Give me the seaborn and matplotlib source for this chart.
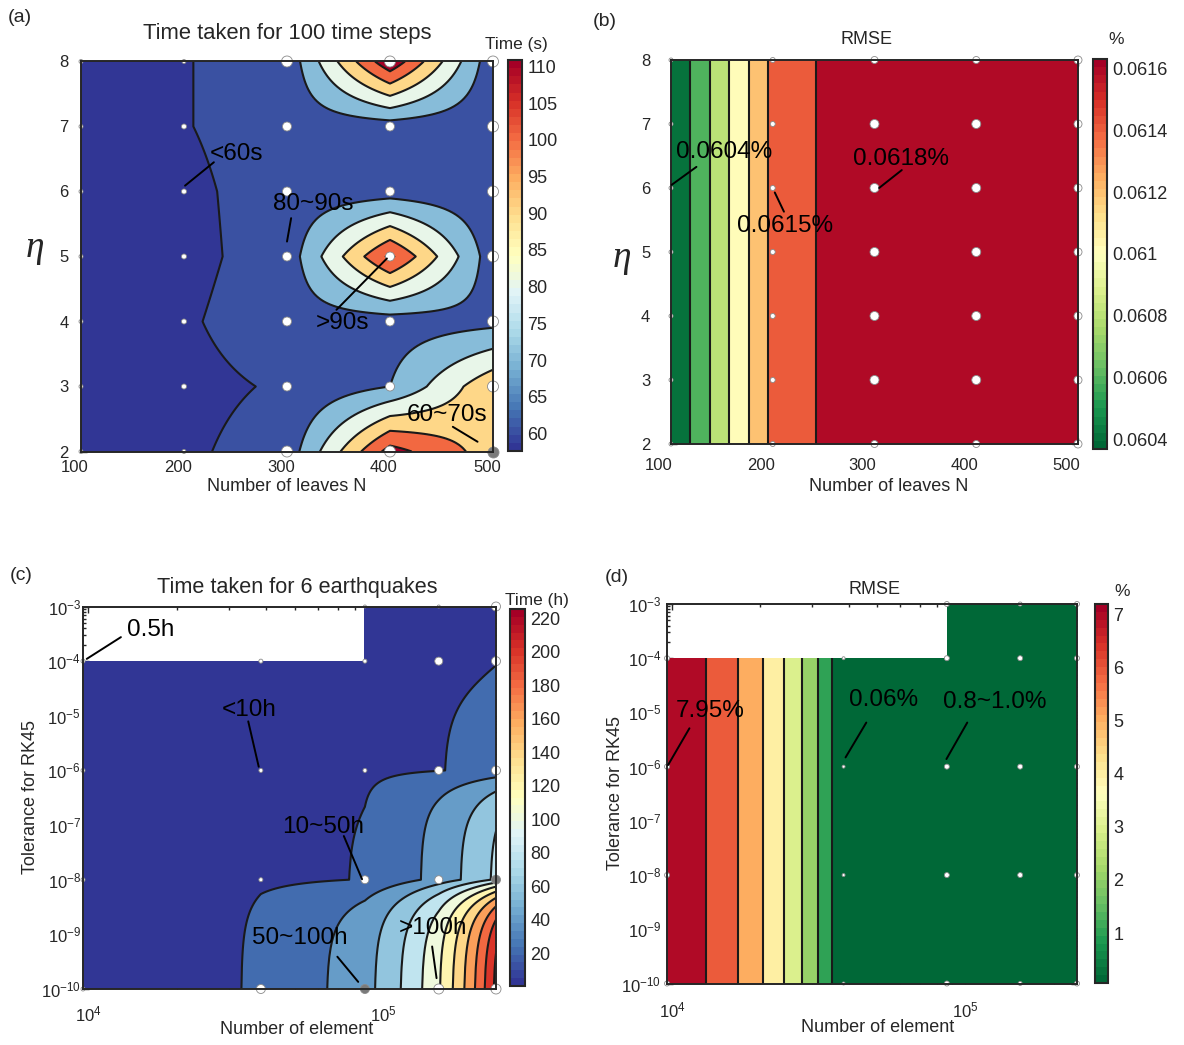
import numpy as np
import pandas as pd
import matplotlib
matplotlib.use("Agg")
import matplotlib.pyplot as plt
import matplotlib.tri as mtri
import matplotlib.ticker as mticker
import matplotlib.transforms as mtrans
from matplotlib.colors import Normalize
from matplotlib.cm import ScalarMappable
import seaborn as sns

# ---------------- data ----------------
leaves_N = [100, 200, 300, 400, 500]
eta_values = [2, 3, 4, 5, 6, 7, 8]
# time (s) for 100 time steps, rows = eta 2..8, cols = N
time_100_steps = [
    [57.6, 58.5, 64.0, 114.0, 95.0],
    [57.6, 57.7, 61.0, 70.0, 98.0],
    [57.6, 58.9, 65.0, 65.0, 67.0],
    [57.6, 57.6, 64.0, 112.0, 64.0],
    [57.6, 58.1, 64.0, 65.0, 63.0],
    [57.6, 59.6, 64.0, 65.0, 63.0],
    [57.6, 59.7, 63.0, 118.0, 63.0],
]
rmse_leaves = [0.06040, 0.06145, 0.06180, 0.06182, 0.06183]

elements = [9600, 38400, 86400, 153600, 240000]
tolerance = [1e-10, 1e-8, 1e-6, 1e-4, 1e-3]
# time (h) for 6 earthquakes, rows = tolerance, cols = elements
time_6_eq = [
    [0.5, 24.5, 53.1, 118.0, 225.0],
    [0.5, 16.2, 21.0, 48.0, 84.0],
    [0.5, 5.0, 16.2, 19.5, 25.0],
    [0.5, 3.0, 5.0, 10.0, 19.0],
    [np.nan, np.nan, 2.0, 3.0, 5.0],
]
rmse_elements = [
    [7.95, 0.06, 0.95, 0.90, 0.85],
    [7.95, 0.06, 0.95, 0.90, 0.85],
    [7.95, 0.06, 0.95, 0.90, 0.85],
    [7.95, 0.06, 0.95, 0.90, 0.85],
    [np.nan, np.nan, 0.95, 0.90, 0.85],
]

time_s_levels = [60, 70, 80, 90, 100, 110]
time_s_ticks = [60, 65, 70, 75, 80, 85, 90, 95, 100, 105, 110]
rmse_leaf_levels = [0.0606, 0.0608, 0.0610, 0.0612, 0.0614, 0.0616]
rmse_leaf_ticks = [0.0604, 0.0606, 0.0608, 0.0610, 0.0612, 0.0614, 0.0616]
time_h_levels = [20, 40, 60, 80, 100, 120, 140, 160, 180, 200, 220]
time_h_ticks = [20, 40, 60, 80, 100, 120, 140, 160, 180, 200, 220]
rmse_el_levels = [1, 2, 3, 4, 5, 6, 7]
rmse_el_ticks = [1, 2, 3, 4, 5, 6, 7]
leaf_ticks = [100, 200, 300, 400, 500]
eta_ticks = [2, 3, 4, 5, 6, 7, 8]
element_ticks = [1e4, 1e5]
tolerance_ticks = [1e-10, 1e-9, 1e-8, 1e-7, 1e-6, 1e-5, 1e-4, 1e-3]

# ---------------- style ----------------
W, H = 1184, 1045
sns.set_theme(style="ticks")
plt.rcParams["font.family"] = ["Liberation Sans", "DejaVu Sans"]
plt.rcParams["mathtext.fontset"] = "custom"
plt.rcParams["mathtext.rm"] = "Liberation Sans"
plt.rcParams["mathtext.it"] = "Liberation Sans:italic"
plt.rcParams["mathtext.default"] = "regular"
EDGE = "#262626"
plt.rcParams["axes.edgecolor"] = EDGE
plt.rcParams["xtick.color"] = EDGE
plt.rcParams["ytick.color"] = EDGE

fig = plt.figure(figsize=(W / 100, H / 100), dpi=100)
fig.patch.set_facecolor("white")


def box(x0, y0, x1, y1):
    return [x0 / W, 1 - y1 / H, (x1 - x0) / W, (y1 - y0) / H]


def grid_tri(xs, ys, Z, sx=1.0, sy=1.0):
    Z = np.asarray(Z, float)
    X, Y = np.meshgrid(np.asarray(xs, float), np.asarray(ys, float))
    valid = ~np.isnan(Z)
    idx = -np.ones(Z.shape, int)
    idx[valid] = np.arange(valid.sum())
    tris = []
    ny, nx = Z.shape
    for j in range(ny - 1):
        for i in range(nx - 1):
            bl, br, tr, tl = idx[j, i], idx[j, i + 1], idx[j + 1, i + 1], idx[j + 1, i]
            if min(bl, br, tr, tl) < 0:
                continue
            tris += [[bl, br, tr], [bl, tr, tl]]
    tri = mtri.Triangulation(X[valid] / sx, Y[valid] / sy, np.array(tris))
    return tri, Z[valid]


def refined_bilinear(xs, ys, Z, sx, sy, subdiv):
    """Refine the grid mesh and evaluate the cell-wise bilinear field on it."""
    tri, _ = grid_tri(xs, ys, Z, sx, sy)
    rtri = mtri.UniformTriRefiner(tri).refine_triangulation(subdiv=subdiv)
    xn = np.asarray(xs, float) / sx
    yn = np.asarray(ys, float) / sy
    Zf = np.nan_to_num(np.asarray(Z, float))
    i = np.clip(np.searchsorted(xn, rtri.x, side="left") - 1, 0, len(xn) - 2)
    j = np.clip(np.searchsorted(yn, rtri.y, side="left") - 1, 0, len(yn) - 2)
    u = (rtri.x - xn[i]) / (xn[i + 1] - xn[i])
    v = (rtri.y - yn[j]) / (yn[j + 1] - yn[j])
    zz = ((1 - u) * (1 - v) * Zf[j, i] + u * (1 - v) * Zf[j, i + 1]
          + u * v * Zf[j + 1, i + 1] + (1 - u) * v * Zf[j + 1, i])
    return mtri.Triangulation(rtri.x * sx, rtri.y * sy, rtri.triangles), zz


def draw_contours(ax, tri, z, levels, cmap, norm, zmin):
    colors = [cmap(norm(zmin))] + [cmap(norm(l)) for l in levels]
    ax.tricontourf(tri, z, levels=levels, colors=colors, extend="both", zorder=1)
    ax.tricontour(tri, z, levels=levels, colors="k", linewidths=1.5, zorder=1.5)


def draw_points(ax, xs, ys, diam, fill):
    rows = []
    for j, y in enumerate(ys):
        for i, x in enumerate(xs):
            d = diam[j][i]
            if d is None:
                continue
            rows.append(dict(x=x, y=y, s=(d * 0.72) ** 2, f=fill[j][i]))
    df = pd.DataFrame(rows)
    for f, fc in [("w", "white"), ("g", "#7a7a7a")]:
        sub = df[df.f == f]
        if len(sub) == 0:
            continue
        sns.scatterplot(data=sub, x="x", y="y", s=sub["s"].values, color=fc,
                        edgecolor="#8a8a8a", linewidth=0.6, ax=ax, legend=False,
                        clip_on=False, zorder=2.2)


def style_axes(ax, xpad, ypad, xshift=0):
    for sp in ax.spines.values():
        sp.set_linewidth(1.4)
        sp.set_color(EDGE)
        sp.set_zorder(3)
    ax.tick_params(which="both", direction="in", top=True, right=True,
                   labelsize=12, width=1.0)
    ax.tick_params(which="major", length=4)
    ax.tick_params(which="minor", length=2.5)
    ax.tick_params(axis="x", which="both", pad=xpad)
    ax.tick_params(axis="y", which="both", pad=ypad)
    ax.set_xlabel("")
    ax.set_ylabel("")
    ax.xaxis.label.set_visible(False)
    ax.yaxis.label.set_visible(False)
    if xshift:
        off = mtrans.ScaledTranslation(xshift / 100.0, 0, fig.dpi_scale_trans)
        for lab in ax.get_xticklabels():
            lab.set_transform(lab.get_transform() + off)


def colorbar(cax, cmap, norm, ticks, fmt=None):
    sm = ScalarMappable(norm=norm, cmap=cmap)
    cb = fig.colorbar(sm, cax=cax, ticks=ticks)
    cb.outline.set_linewidth(1.5)
    cb.outline.set_edgecolor(EDGE)
    cax.tick_params(direction="in", length=4, width=1.0, labelsize=13, color=EDGE, pad=4)
    cax.minorticks_off()
    if fmt is not None:
        cb.formatter = fmt
        cb.update_ticks()
    return cb


ANN_FS = 17.5


def annotate(ax, text, tx, ty, p0, p1, ha="center"):
    ax.text(tx, ty, text, ha=ha, va="center", fontsize=ANN_FS, color="black", zorder=4)
    ax.annotate("", xy=p1, xytext=p0,
                arrowprops=dict(arrowstyle="-", color="black", lw=1.4, shrinkA=0, shrinkB=0),
                zorder=4)


def log_ticks(ax):
    ax.xaxis.set_major_locator(mticker.FixedLocator(element_ticks))
    ax.yaxis.set_major_locator(mticker.FixedLocator(tolerance_ticks))
    ax.xaxis.set_major_formatter(mticker.LogFormatterSciNotation())
    ax.yaxis.set_major_formatter(mticker.LogFormatterSciNotation())
    ax.yaxis.set_minor_locator(mticker.LogLocator(base=10, subs=np.arange(2, 10), numticks=20))
    ax.xaxis.set_minor_locator(mticker.LogLocator(base=10, subs=np.arange(2, 10), numticks=20))
    ax.yaxis.set_minor_formatter(mticker.NullFormatter())
    ax.xaxis.set_minor_formatter(mticker.NullFormatter())


cmap_div = plt.get_cmap("RdYlBu_r").resampled(48)
cmap_grn = plt.get_cmap("RdYlGn_r").resampled(48)

# ---------------- (a) ----------------
axA = fig.add_axes(box(81, 61.5, 493, 451.5))
normA = Normalize(57.6, 110.9)
triA, zA = refined_bilinear(leaves_N, eta_values, time_100_steps, 100.0, 1.0, 5)
draw_contours(axA, triA, zA, time_s_levels, cmap_div, normA, np.min(time_100_steps))
a_diam = [
    [4, 4, 11, 11, 11],
    [4, 5, 9, 9, 11],
    [4, 5, 9, 9, 11],
    [4, 5, 9, 9, 11],
    [4, 5, 9, 9, 11],
    [4, 5, 9, 9, 11],
    [4, 4, 11, 11, 11],
]
a_fill = ["wwwwg"] + ["wwwww"] * 6
draw_points(axA, leaves_N, eta_values, a_diam, a_fill)
axA.set_xlim(100, 500)
axA.set_ylim(2, 8)
axA.set_xticks(leaf_ticks)
axA.set_yticks(eta_ticks)
style_axes(axA, xpad=6, ypad=9, xshift=-6)
annotate(axA, "<60s", 225, 6.58, (201, 6.09), (229, 6.45), ha="left")
annotate(axA, "80~90s", 325, 5.81, (304, 5.59), (300, 5.23))
annotate(axA, ">90s", 354, 3.97, (397, 4.97), (348, 4.18))
annotate(axA, "60~70s", 455, 2.56, (461, 2.38), (485, 2.15))
caxA = fig.add_axes(box(508, 60, 522, 451))
colorbar(caxA, cmap_div, normA, time_s_ticks)

# ---------------- (b) ----------------
axB = fig.add_axes(box(671, 60, 1078, 444))
normB = Normalize(0.06037, 0.06163)
Zb = np.tile(np.asarray(rmse_leaves), (len(eta_values), 1))
triB, zB = grid_tri(leaves_N, eta_values, Zb)
draw_contours(axB, triB, zB, rmse_leaf_levels, cmap_grn, normB, min(rmse_leaves))
b_diam = [
    [4, 5, 7, 7, 8],
    [4, 5, 9, 9, 8],
    [4, 5, 9, 9, 8],
    [4, 5, 9, 9, 8],
    [4, 5, 9, 9, 8],
    [4, 5, 9, 9, 8],
    [4, 5, 7, 7, 8],
]
b_fill = ["wwwww"] * 7
draw_points(axB, leaves_N, eta_values, b_diam, b_fill)
axB.set_xlim(100, 500)
axB.set_ylim(2, 8)
axB.set_xticks(leaf_ticks)
axB.set_yticks(eta_ticks)
style_axes(axB, xpad=10, ypad=15, xshift=-12)
annotate(axB, "0.0604%", 152, 6.57, (100.7, 6.05), (125, 6.33))
annotate(axB, "0.0615%", 212, 5.40, (202, 5.93), (211, 5.63))
annotate(axB, "0.0618%", 326, 6.45, (304.5, 6.0), (326.8, 6.28))
caxB = fig.add_axes(box(1093, 59, 1107, 449))
colorbar(caxB, cmap_grn, normB, rmse_leaf_ticks,
         fmt=mticker.FuncFormatter(lambda v, p: f"{v:g}"))

# ---------------- (c) ----------------
axC = fig.add_axes(box(83, 606.5, 496, 989))
axC.set_xscale("log")
axC.set_yscale("log")
normC = Normalize(0.5, 225.4)
triC, zC = refined_bilinear(elements, tolerance, time_6_eq, 240000.0, 1e-3, 6)
draw_contours(axC, triC, zC, time_h_levels, cmap_div, normC, np.nanmin(time_6_eq))
c_diam = [
    [4, 9, 9, 10, 10],
    [4, 4, 8, 8, 9],
    [4, 4, 4, 8, 9],
    [4, 4, 4, 8, 9],
    [None, None, 3, 3, 9],
]
c_fill = ["wwgww", "wwwwg", "wwwww", "wwwww", "wwwww"]
draw_points(axC, elements, tolerance, c_diam, c_fill)
axC.set_xlim(9600, 240000)
axC.set_ylim(1e-10, 1e-3)
log_ticks(axC)
style_axes(axC, xpad=11, ypad=1.5)
annotate(axC, "0.5h", 13520, 3.7e-4, (9886, 1.1e-4), (12900, 2.75e-4), ha="left")
annotate(axC, "<10h", 35100, 1.29e-5, (37760, 1.17e-6), (34800, 7.9e-6))
annotate(axC, "10~50h", 62500, 9.3e-8, (84500, 1.02e-8), (73300, 6.3e-8))
annotate(axC, "50~100h", 52200, 8.5e-10, (82000, 1.35e-10), (69700, 3.9e-10))
annotate(axC, ">100h", 147300, 1.32e-9, (151000, 1.58e-10), (145900, 6.0e-10))
caxC = fig.add_axes(box(510, 609, 525, 986))
colorbar(caxC, cmap_div, normC, time_h_ticks)

# ---------------- (d) ----------------
axD = fig.add_axes(box(667, 604, 1077, 983.5))
axD.set_xscale("log")
axD.set_yscale("log")
normD = Normalize(0.06, 7.19)
triD, zD = grid_tri(elements, tolerance, rmse_elements)
draw_contours(axD, triD, zD, rmse_el_levels, cmap_grn, normD, np.nanmin(rmse_elements))
d_diam = [
    [5, 3, 5, 4, 5],
    [5, 3, 5, 5, 5],
    [5, 3, 5, 5, 5],
    [5, 3, 5, 5, 5],
    [None, None, 5, 4, 5],
]
d_fill = ["wwwww"] * 5
draw_points(axD, elements, tolerance, d_diam, d_fill)
axD.set_xlim(9600, 240000)
axD.set_ylim(1e-10, 1e-3)
log_ticks(axD)
style_axes(axD, xpad=12, ypad=4)
annotate(axD, "7.95%", 13450, 1.05e-5, (9680, 1.07e-6), (11450, 5.1e-6))
annotate(axD, "0.06%", 52600, 1.66e-5, (39000, 1.48e-6), (45900, 6.5e-6))
annotate(axD, "0.8~1.0%", 125600, 1.58e-5, (86100, 1.38e-6), (101400, 6.5e-6))
caxD = fig.add_axes(box(1095, 604, 1108, 983))
colorbar(caxD, cmap_grn, normD, rmse_el_ticks)


# ---------------- figure texts ----------------
def ftext(x, y, s, **kw):
    fig.text(x / W, 1 - y / H, s, **kw)


ftext(8, 18, "(a)", fontsize=14, ha="left", va="center")
ftext(593, 22, "(b)", fontsize=14, ha="left", va="center")
ftext(10, 575, "(c)", fontsize=14, ha="left", va="center")
ftext(605, 578, "(d)", fontsize=14, ha="left", va="center")

ftext(287, 33, "Time taken for 100 time steps", fontsize=15.8, ha="center", va="center")
ftext(867, 39, "RMSE", fontsize=13, ha="center", va="center")
ftext(297, 588, "Time taken for 6 earthquakes", fontsize=15.6, ha="center", va="center")
ftext(875, 590, "RMSE", fontsize=13, ha="center", va="center")

ftext(516, 45, "Time (s)", fontsize=12.4, ha="center", va="center")
ftext(1116, 40, "%", fontsize=12.5, ha="center", va="center")
ftext(537, 600, "Time (h)", fontsize=12.4, ha="center", va="center")
ftext(1122, 591, "%", fontsize=12.5, ha="center", va="center")

ftext(287, 486, "Number of leaves N", fontsize=13, ha="center", va="center")
ftext(889, 486, "Number of leaves N", fontsize=13, ha="center", va="center")
ftext(297, 1030, "Number of element", fontsize=13, ha="center", va="center")
ftext(878, 1028, "Number of element", fontsize=13, ha="center", va="center")

ftext(35, 248, "\u03b7", fontsize=27, ha="center", va="center",
      family=["Liberation Serif", "DejaVu Serif"], style="italic")
ftext(622, 258, "\u03b7", fontsize=27, ha="center", va="center",
      family=["Liberation Serif", "DejaVu Serif"], style="italic")
ftext(31, 797, "Tolerance for RK45", fontsize=13, ha="center", va="center", rotation=90)
ftext(616, 793, "Tolerance for RK45", fontsize=13, ha="center", va="center", rotation=90)

fig.savefig("out.png", dpi=100, facecolor="white")
